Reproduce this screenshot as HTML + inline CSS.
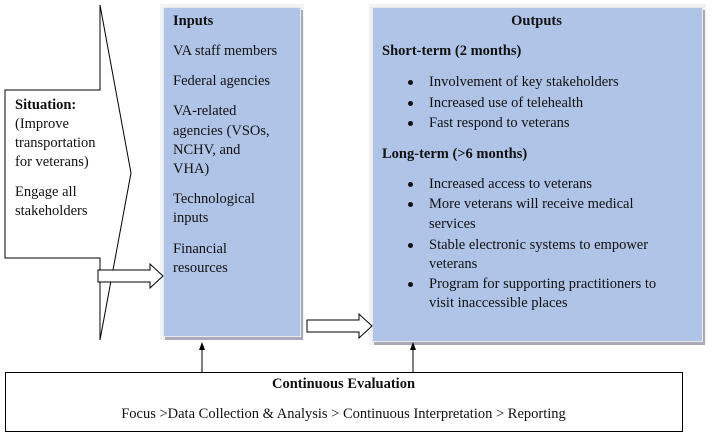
<!DOCTYPE html>
<html><head><meta charset="utf-8"><style>
body{margin:0;width:713px;height:435px;background:#fff;position:relative;overflow:hidden;font-family:"Liberation Serif",serif;font-size:14.5px;color:#111}
.t{position:absolute;white-space:nowrap;line-height:19px}
b{font-weight:bold}
.box{position:absolute;background:#b0c4e8;border:1px solid #e8e8e8;box-shadow:2px 3px 0 #aab,0 0 0 3px #f2f2f2}
.dot{position:absolute;width:5px;height:5px;border-radius:50%;background:#111}
</style></head><body>
<svg width="713" height="435" style="position:absolute;left:0;top:0">
<polyline points="100,5 100,90 5,90 5,258 100,258 100,340" fill="none" stroke="#000" stroke-width="1"/>
<polyline points="100,5 131,173 100,340" fill="none" stroke="#000" stroke-width="1"/>
</svg>
<div class="box" style="left:163px;top:7px;width:136px;height:328px"></div>
<div class="box" style="left:372px;top:7px;width:329px;height:333px"></div>
<svg width="713" height="435" style="position:absolute;left:0;top:0">
<polygon points="98,270 150,270 150,264 163,276 150,288 150,282 98,282" fill="#fff" stroke="#000"/>
<polygon points="307,320 359,320 359,314 372,326 359,338 359,332 307,332" fill="#fff" stroke="#000"/>
<rect x="5.5" y="372.5" width="677" height="59" fill="#fff" stroke="#000"/>
<line x1="202" y1="372" x2="202" y2="348" stroke="#000"/>
<polygon points="202,342 199,350 205,350" fill="#000"/>
<line x1="413" y1="372" x2="413" y2="348" stroke="#000"/>
<polygon points="413,342 410,350 416,350" fill="#000"/>
</svg>
<div class="t" style="left:15px;top:96px"><b>Situation:</b></div>
<div class="t" style="left:15px;top:115px">(Improve</div>
<div class="t" style="left:15px;top:134px">transportation</div>
<div class="t" style="left:15px;top:153px">for veterans)</div>
<div class="t" style="left:15px;top:183px">Engage all</div>
<div class="t" style="left:15px;top:202px">stakeholders</div>

<div class="t" style="left:173px;top:12px"><b>Inputs</b></div>
<div class="t" style="left:173px;top:42px">VA staff members</div>
<div class="t" style="left:173px;top:72px">Federal agencies</div>
<div class="t" style="left:173px;top:102px">VA-related</div>
<div class="t" style="left:173px;top:122px">agencies (VSOs,</div>
<div class="t" style="left:173px;top:141px">NCHV, and</div>
<div class="t" style="left:173px;top:160px">VHA)</div>
<div class="t" style="left:173px;top:190px">Technological</div>
<div class="t" style="left:173px;top:209px">inputs</div>
<div class="t" style="left:173px;top:240px">Financial</div>
<div class="t" style="left:173px;top:259px">resources</div>

<div class="t" style="left:372px;width:329px;text-align:center;top:12px"><b>Outputs</b></div>
<div class="t" style="left:382px;top:42px"><b>Short-term (2 months)</b></div>
<div class="dot" style="left:408px;top:80px"></div><div class="t" style="left:429px;top:73px">Involvement of key stakeholders</div>
<div class="dot" style="left:408px;top:101px"></div><div class="t" style="left:429px;top:94px">Increased use of telehealth</div>
<div class="dot" style="left:408px;top:121px"></div><div class="t" style="left:429px;top:114px">Fast respond to veterans</div>
<div class="t" style="left:382px;top:145px"><b>Long-term (&gt;6 months)</b></div>
<div class="dot" style="left:408px;top:182px"></div><div class="t" style="left:429px;top:175px">Increased access to veterans</div>
<div class="dot" style="left:408px;top:202px"></div><div class="t" style="left:429px;top:195px">More veterans will receive medical</div>
<div class="t" style="left:429px;top:215px">services</div>
<div class="dot" style="left:408px;top:243px"></div><div class="t" style="left:429px;top:236px">Stable electronic systems to empower</div>
<div class="t" style="left:429px;top:255px">veterans</div>
<div class="dot" style="left:408px;top:282px"></div><div class="t" style="left:429px;top:275px">Program for supporting practitioners to</div>
<div class="t" style="left:429px;top:294px">visit inaccessible places</div>

<div class="t" style="left:5px;width:677px;text-align:center;top:375px"><b>Continuous Evaluation</b></div>
<div class="t" style="left:5px;width:677px;text-align:center;top:405px">Focus &gt;Data Collection &amp; Analysis &gt; Continuous Interpretation &gt; Reporting</div>
</body></html>
